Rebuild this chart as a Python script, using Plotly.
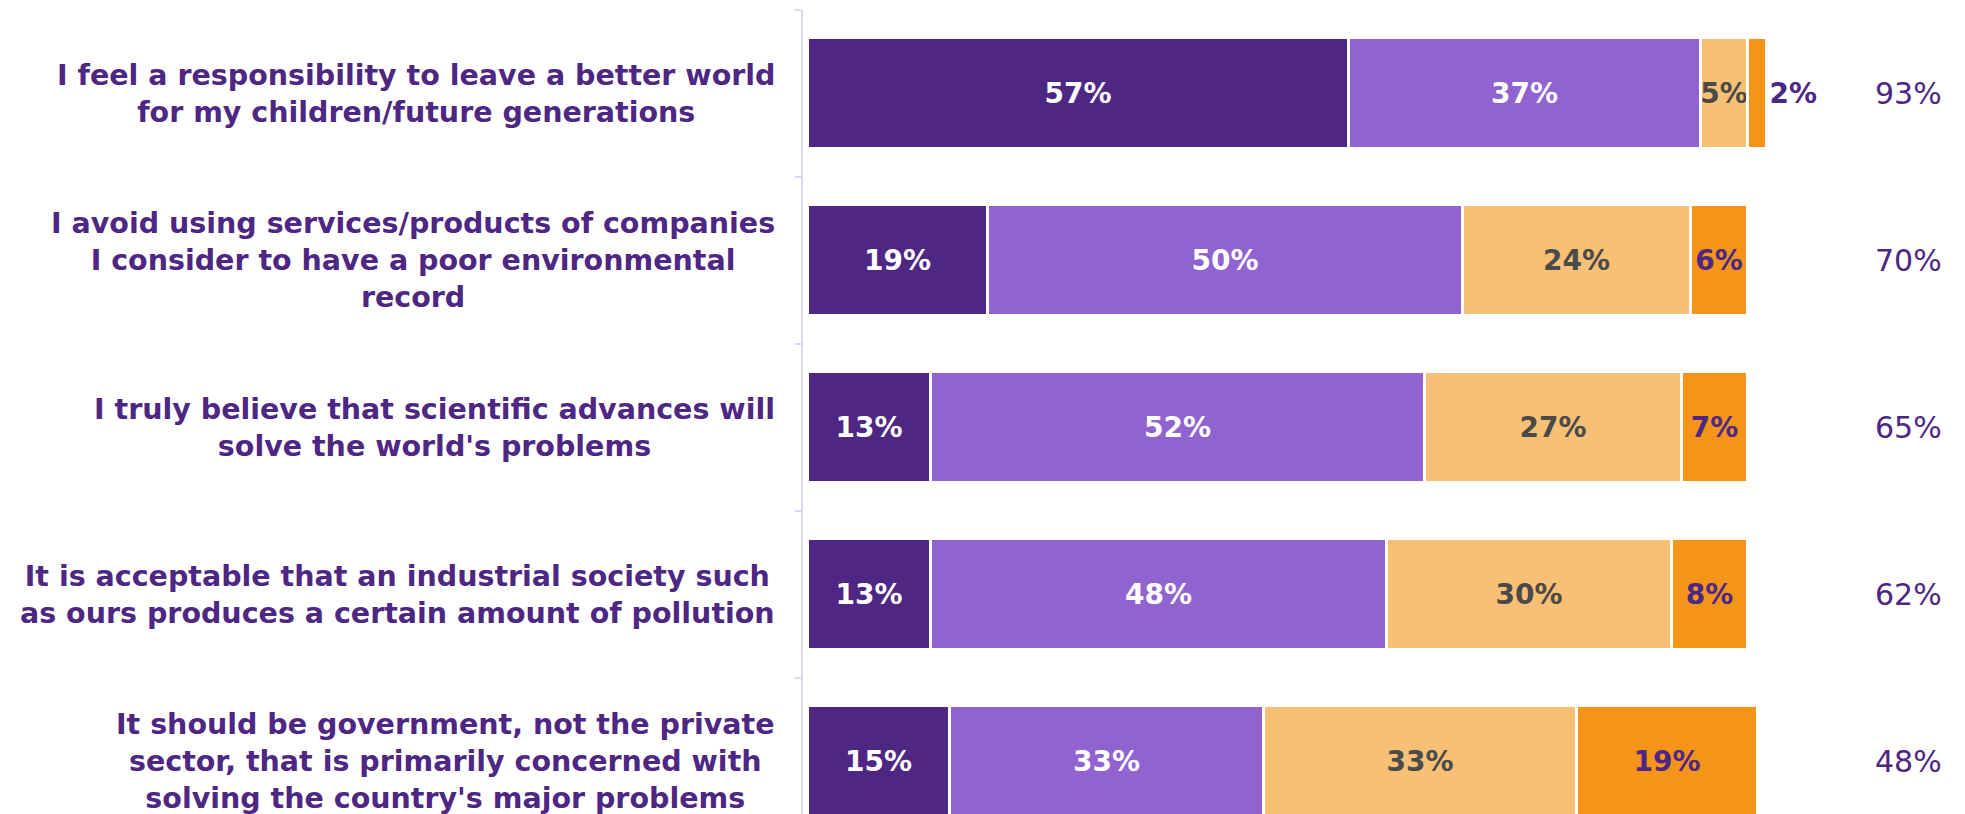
import plotly.graph_objects as go

# Survey statements, top to bottom
statements = [
    "I feel a responsibility to leave a better world<br>for my children/future generations",
    "I avoid using services/products of companies<br>I consider to have a poor environmental<br>record",
    "I truly believe that scientific advances will<br>solve the world's problems",
    "It is acceptable that an industrial society such<br>as ours produces a certain amount of pollution",
    "It should be government, not the private<br>sector, that is primarily concerned with<br>solving the country's major problems",
]
categories = [s.replace("<br>", " ") for s in statements]

strongly_agree = [57, 19, 13, 13, 15]
somewhat_agree = [37, 50, 52, 48, 33]
somewhat_disagree = [5, 24, 27, 30, 33]
strongly_disagree = [2, 6, 7, 8, 19]
total_agree = [93, 70, 65, 62, 48]

W, H = 1965, 814
LABEL_FONT = "DejaVu Sans, Verdana, sans-serif"
PURPLE_DARK = "#4e2683"
PURPLE_MID = "#9163d0"
ORANGE_LIGHT = "#f8c074"
ORANGE = "#f4951a"
GREY_TEXT = "#4a4a4a"

series = [
    ("Strongly agree", strongly_agree, PURPLE_DARK, "white"),
    ("Somewhat agree", somewhat_agree, PURPLE_MID, "white"),
    ("Somewhat disagree", somewhat_disagree, ORANGE_LIGHT, GREY_TEXT),
    ("Strongly disagree", strongly_disagree, ORANGE, PURPLE_DARK),
]

fig = go.Figure()
for name, vals, color, tcolor in series:
    positions = ["outside" if v < 3 else "inside" for v in vals]
    fig.add_trace(go.Bar(
        name=name,
        y=categories,
        x=vals,
        orientation="h",
        width=0.67,
        marker=dict(color=color, line=dict(color="white", width=3)),
        text=[f"<b>{v}%</b>" for v in vals],
        textposition=positions,
        insidetextanchor="middle",
        textangle=0,
        constraintext="none",
        cliponaxis=False,
        textfont=dict(family=LABEL_FONT, size=28, color=tcolor),
        insidetextfont=dict(family=LABEL_FONT, size=28, color=tcolor),
        outsidetextfont=dict(family=LABEL_FONT, size=28, color=tcolor),
        hoverinfo="skip",
        showlegend=False,
    ))

# Statement labels to the left of the axis
for cat, label in zip(categories, statements):
    fig.add_annotation(
        xref="paper", yref="y", x=0, y=cat,
        xshift=-26, xanchor="right", yanchor="middle", align="center",
        text=f"<b>{label}</b>", showarrow=False,
        font=dict(family=LABEL_FONT, size=28.5, color=PURPLE_DARK),
    )

# Net agreement totals on the right
for cat, tot in zip(categories, total_agree):
    fig.add_annotation(
        xref="paper", yref="y", x=1.147, y=cat,
        xanchor="center", yanchor="middle",
        text=f"{tot}%", showarrow=False,
        font=dict(family="DejaVu Sans, Verdana, sans-serif", size=30, color=PURPLE_DARK),
    )

plot_left, plot_right = 803, 1767
fig.update_layout(
    width=W, height=H,
    barmode="stack",
    bargap=0,
    plot_bgcolor="white",
    paper_bgcolor="white",
    margin=dict(l=plot_left, r=W - plot_right, t=10, b=0, pad=0),
    xaxis=dict(range=[-0.5, 101], visible=False, fixedrange=True),
    yaxis=dict(
        type="category",
        categoryorder="array",
        categoryarray=categories,
        range=[4.314, -0.5],
        showticklabels=False,
        showgrid=False,
        zeroline=False,
        showline=True,
        linecolor="#ddd6f2",
        linewidth=1.5,
        ticks="outside",
        tickson="boundaries",
        ticklen=6,
        tickcolor="#ddd6f2",
        tickwidth=1.5,
        fixedrange=True,
    ),
)

fig.write_html("out.html")
